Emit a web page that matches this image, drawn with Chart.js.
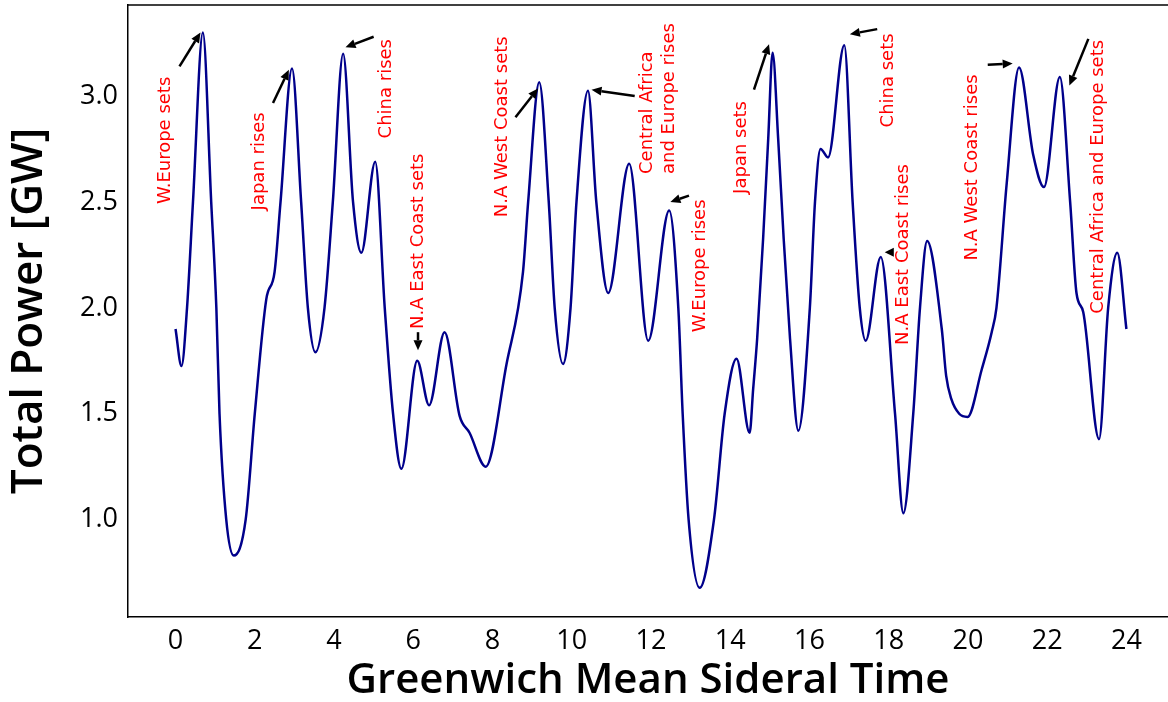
<!DOCTYPE html>
<html>
<head>
<meta charset="utf-8">
<script src="https://cdn.jsdelivr.net/npm/chart.js@4.4.0/dist/chart.umd.min.js"></script>
<style>
  html, body { margin: 0; padding: 0; background: #fff; overflow: hidden; }
  #wrap { width: 1168px; height: 702px; }
</style>
</head>
<body>
<div id="wrap"><canvas id="powerChart"></canvas></div>
<script>
// Total power vs GMST
const gmstHours = [
  0.00, 0.15, 0.29, 0.44, 0.69, 0.90, 1.03, 1.11, 1.28, 1.47, 1.77, 2.00, 2.29, 2.50, 2.65, 2.94,
  3.17, 3.34, 3.53, 3.76, 3.97, 4.23, 4.48, 4.69, 5.04, 5.28, 5.49, 5.70, 6.10, 6.40, 6.79, 7.17,
  7.42, 7.83, 8.35, 8.77, 8.90, 9.18, 9.42, 9.57, 9.78, 9.97, 10.12, 10.41, 10.62, 10.92, 11.45,
  11.93, 12.46, 12.69, 12.80, 12.95, 13.23, 13.59, 13.86, 14.16, 14.49, 14.58, 14.68, 14.83, 14.96,
  15.07, 15.21, 15.35, 15.51, 15.72, 16.01, 16.14, 16.28, 16.47, 16.88, 17.09, 17.27, 17.42, 17.80,
  18.16, 18.37, 18.62, 18.79, 18.97, 19.34, 19.45, 19.58, 19.78, 19.99, 20.35, 20.60, 20.72, 20.98,
  21.29, 21.65, 21.92, 22.32, 22.58, 22.74, 22.91, 23.31, 23.54, 23.77, 24.00
];
const totalPowerGW = [
  1.90, 1.725, 2.00, 2.50, 3.30, 2.50, 2.00, 1.50, 1.00, 0.83, 1.00, 1.50, 2.04, 2.17, 2.50, 3.13,
  2.50, 2.00, 1.79, 2.00, 2.50, 3.20, 2.50, 2.26, 2.69, 2.00, 1.50, 1.24, 1.75, 1.54, 1.885, 1.49,
  1.41, 1.25, 1.73, 2.17, 2.50, 3.065, 2.50, 2.00, 1.735, 2.00, 2.50, 3.025, 2.50, 2.07, 2.68,
  1.845, 2.46, 2.00, 1.50, 1.00, 0.678, 1.00, 1.50, 1.76, 1.41, 1.618, 1.854, 2.325, 2.80,
  3.205, 2.80, 2.325, 1.854, 1.42, 2.00, 2.50, 2.75, 2.71, 3.24, 2.50, 2.00, 1.845, 2.24,
  1.50, 1.03, 1.50, 2.00, 2.315, 1.90, 1.68, 1.57, 1.50, 1.485, 1.71, 1.885, 2.00, 2.59,
  3.135, 2.72, 2.57, 3.09, 2.50, 2.07, 1.98, 1.38, 2.00, 2.26, 1.90
];
const xTickValues = [0, 2, 4, 6, 8, 10, 12, 14, 16, 18, 20, 22, 24];
const yTickValues = [1.0, 1.5, 2.0, 2.5, 3.0];

// Event labels: text lines, where the (rotated) text starts, arrow tail and head, in data units
const notes = [
  { lines: ["W.Europe sets"], at: [-0.25, 2.49], tail: [0.10, 3.14], head: [0.63, 3.30] },
  { lines: ["Japan rises"], at: [2.12, 2.46], tail: [2.46, 2.967], head: [2.86, 3.124] },
  { lines: ["China rises"], at: [5.32, 2.80], tail: [5.00, 3.28], head: [4.29, 3.23] },
  { lines: ["N.A East Coast sets"], at: [6.12, 1.90], tail: [6.12, 1.885], head: [6.12, 1.80] },
  { lines: ["N.A West Coast sets"], at: [8.24, 2.428], tail: [8.58, 2.90], head: [9.15, 3.036] },
  { lines: ["Central Africa", "and Europe rises"], at: [12.19, 2.632], tail: [11.59, 3.00], head: [10.50, 3.03] },
  { lines: ["W.Europe rises"], at: [13.24, 1.885], tail: [12.96, 2.53], head: [12.49, 2.50] },
  { lines: ["Japan sets"], at: [14.28, 2.538], tail: [14.60, 3.03], head: [14.98, 3.245] },
  { lines: ["China sets"], at: [18.00, 2.852], tail: [17.71, 3.316], head: [17.02, 3.292] },
  { lines: ["N.A East Coast rises"], at: [18.38, 1.825], tail: [18.13, 2.263], head: [17.90, 2.263] },
  { lines: ["N.A West Coast rises"], at: [20.12, 2.223], tail: [20.50, 3.148], head: [21.13, 3.154] },
  { lines: ["Central Africa and Europe sets"], at: [23.30, 1.972], tail: [23.04, 3.27], head: [22.56, 3.05] }
];

// draws the top spine, the arrows and the red labels
const notesPlugin = {
  id: "notes",
  afterDatasetsDraw(chart) {
    const { ctx, chartArea, scales } = chart;
    const sx = scales.x, sy = scales.y;
    ctx.save();
    ctx.strokeStyle = "#000";
    ctx.lineWidth = 1.5;
    ctx.beginPath();
    ctx.moveTo(chartArea.left, chartArea.top);
    ctx.lineTo(chartArea.right, chartArea.top);
    ctx.stroke();

    notes.forEach(function (n) {
      const tx = sx.getPixelForValue(n.tail[0]), ty = sy.getPixelForValue(n.tail[1]);
      const hx = sx.getPixelForValue(n.head[0]), hy = sy.getPixelForValue(n.head[1]);
      const ang = Math.atan2(hy - ty, hx - tx);
      const headLen = Math.min(10, Math.hypot(hx - tx, hy - ty));
      const headW = 4.5;
      const bx = hx - headLen * Math.cos(ang), by = hy - headLen * Math.sin(ang);
      ctx.strokeStyle = "#000";
      ctx.lineWidth = 2.5;
      ctx.beginPath();
      ctx.moveTo(tx, ty);
      ctx.lineTo(bx, by);
      ctx.stroke();
      ctx.fillStyle = "#000";
      ctx.beginPath();
      ctx.moveTo(hx, hy);
      ctx.lineTo(bx - headW * Math.sin(ang), by + headW * Math.cos(ang));
      ctx.lineTo(bx + headW * Math.sin(ang), by - headW * Math.cos(ang));
      ctx.closePath();
      ctx.fill();

      ctx.save();
      ctx.translate(sx.getPixelForValue(n.at[0]), sy.getPixelForValue(n.at[1]));
      ctx.rotate(-Math.PI / 2);
      ctx.font = "18px 'DejaVu Sans'";
      ctx.fillStyle = "#ff0000";
      ctx.textAlign = "left";
      ctx.textBaseline = "middle";
      n.lines.forEach(function (line, i) {
        ctx.fillText(line, 0, (i - (n.lines.length - 1) / 2) * 22);
      });
      ctx.restore();
    });
    ctx.restore();
  }
};

document.addEventListener("DOMContentLoaded", function () {
  const points = gmstHours.map(function (h, i) { return { x: h, y: totalPowerGW[i] }; });

  new Chart(document.getElementById("powerChart").getContext("2d"), {
    type: "line",
    data: {
      datasets: [
        {
          data: points,
          borderColor: "#00008b",
          borderWidth: 2.5,
          pointRadius: 0,
          fill: false,
          cubicInterpolationMode: "monotone",
        },
      ],
    },
    options: {
      responsive: true,
      maintainAspectRatio: false,
      animation: false,
      layout: { padding: { top: 5, left: 0, right: 0, bottom: 0 } },
      plugins: { legend: { display: false }, tooltip: { enabled: false } },
      scales: {
        x: {
          type: "linear",
          min: -1.2,
          max: 25.05,
          grid: { display: false, drawTicks: false },
          border: { display: true, color: "#000", width: 1.5 },
          afterBuildTicks: function (scale) {
            scale.ticks = xTickValues.map(function (v) { return { value: v }; });
          },
          afterFit: function (scale) {
            scale.height = 85;
            scale.paddingLeft = 0;
            scale.paddingRight = 0;
          },
          ticks: {
            color: "#000",
            padding: 8,
            maxRotation: 0,
            font: { family: "'Open Sans'", size: 27, weight: "500" },
            callback: function (v) { return String(v); },
          },
          title: {
            display: true,
            text: "Greenwich Mean Sideral Time",
            color: "#000",
            padding: { top: 0, bottom: 0 },
            font: { family: "'Open Sans'", size: 42, weight: "600", lineHeight: 1 },
          },
        },
        y: {
          min: 0.54,
          max: 3.43,
          grid: { display: false, drawTicks: false },
          border: { display: true, color: "#000", width: 1.5 },
          afterBuildTicks: function (scale) {
            scale.ticks = yTickValues.map(function (v) { return { value: v }; });
          },
          afterFit: function (scale) {
            scale.width = 128;
            scale.paddingTop = 0;
            scale.paddingBottom = 0;
          },
          ticks: {
            color: "#000",
            padding: 10,
            font: { family: "'Open Sans'", size: 27, weight: "500" },
            callback: function (v) { return Number(v).toFixed(1); },
          },
          title: {
            display: true,
            text: "Total Power [GW]",
            color: "#000",
            padding: { top: 7, bottom: 0 },
            font: { family: "'Open Sans'", size: 44, weight: "600", lineHeight: 1 },
          },
        },
      },
    },
    plugins: [notesPlugin],
  });
});
</script>
</body>
</html>
